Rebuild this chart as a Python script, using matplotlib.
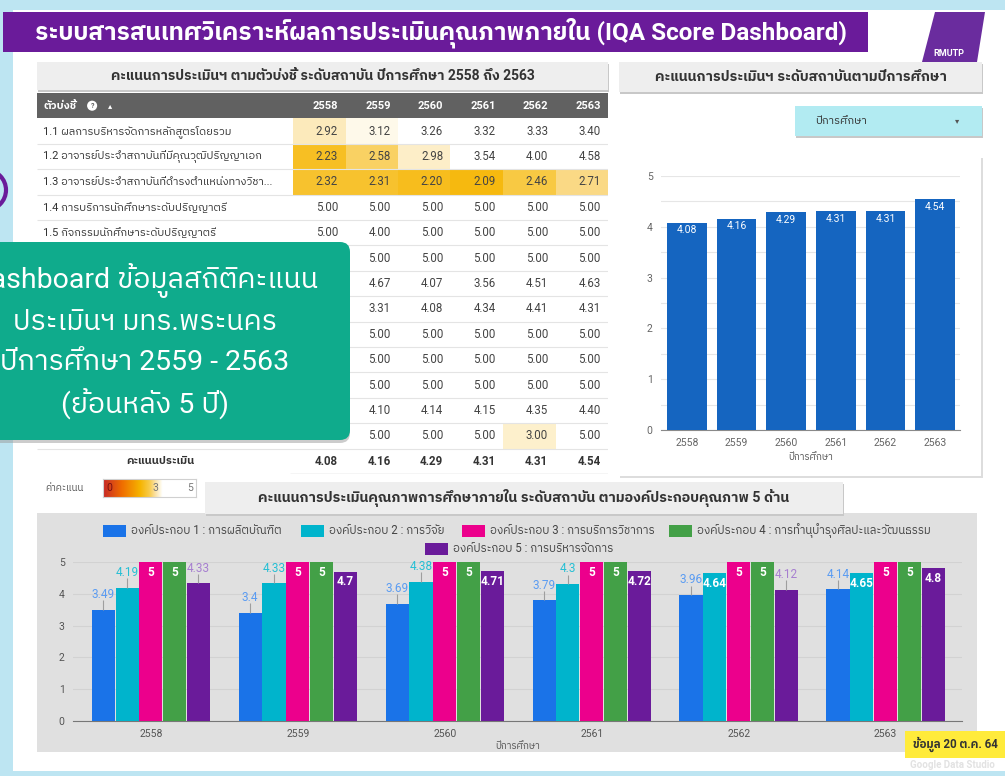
import numpy as np
import matplotlib
matplotlib.use('Agg')
import matplotlib.pyplot as plt
from matplotlib import font_manager
from matplotlib.ft2font import FT2Font
from matplotlib.colors import LinearSegmentedColormap, Normalize
from matplotlib.patches import Rectangle, FancyBboxPatch, Polygon, Circle

# ---------------- data ----------------
years = ['2558', '2559', '2560', '2561', '2562', '2563']

indicators = [
    '1.1 ผลการบริหารจัดการหลักสูตรโดยรวม',
    '1.2 อาจารย์ประจำสถาบันที่มีคุณวุฒิปริญญาเอก',
    '1.3 อาจารย์ประจำสถาบันที่ดำรงตำแหน่งทางวิชา...',
    '1.4 การบริการนักศึกษาระดับปริญญาตรี',
    '1.5 กิจกรรมนักศึกษาระดับปริญญาตรี',
    '2.1 ระบบและกลไกการบริหารและพัฒนางานวิจัยฯ',
    '2.2 เงินสนับสนุนงานวิจัยและงานสร้างสรรค์',
    '2.3 ผลงานทางวิชาการของอาจารย์ประจำและนักวิจัย',
    '3.1 การบริการวิชาการแก่สังคม',
    '4.1 ระบบและกลไกการทำนุบำรุงศิลปะและวัฒนธรรม',
    '5.1 การบริหารของสถาบันเพื่อการกำกับติดตามผล...',
    '5.2 ระบบกำกับการประกันคุณภาพหลักสูตรและคณะ',
    '5.3 ระบบการประกันคุณภาพ',
]

nan = np.nan
score_2558 = [2.92, 2.23, 2.32, 5.00, 5.00, nan, nan, nan, nan, nan, nan, nan, nan]
score_2559 = [3.12, 2.58, 2.31, 5.00, 4.00, 5.00, 4.67, 3.31, 5.00, 5.00, 5.00, 4.10, 5.00]
score_2560 = [3.26, 2.98, 2.20, 5.00, 5.00, 5.00, 4.07, 4.08, 5.00, 5.00, 5.00, 4.14, 5.00]
score_2561 = [3.32, 3.54, 2.09, 5.00, 5.00, 5.00, 3.56, 4.34, 5.00, 5.00, 5.00, 4.15, 5.00]
score_2562 = [3.33, 4.00, 2.46, 5.00, 5.00, 5.00, 4.51, 4.41, 5.00, 5.00, 5.00, 4.35, 3.00]
score_2563 = [3.40, 4.58, 2.71, 5.00, 5.00, 5.00, 4.63, 4.31, 5.00, 5.00, 5.00, 4.40, 5.00]

total_scores = [4.08, 4.16, 4.29, 4.31, 4.31, 4.54]

components = [
    'องค์ประกอบ 1 : การผลิตบัณฑิต',
    'องค์ประกอบ 2 : การวิจัย',
    'องค์ประกอบ 3 : การบริการวิชาการ',
    'องค์ประกอบ 4 : การทำนุบำรุงศิลปะและวัฒนธรรม',
    'องค์ประกอบ 5 : การบริหารจัดการ',
]
comp1 = [3.49, 3.4, 3.69, 3.79, 3.96, 4.14]
comp2 = [4.19, 4.33, 4.38, 4.3, 4.64, 4.65]
comp3 = [5, 5, 5, 5, 5, 5]
comp4 = [5, 5, 5, 5, 5, 5]
comp5 = [4.33, 4.7, 4.71, 4.72, 4.12, 4.8]

comp_colors = ['#1a73e8', '#00b4cc', '#ec008c', '#43a047', '#6a1b9a']
comp_text = ['#5b9cf2', '#26bfd4', '#ec008c', '#43a047', '#a77fd0']


# ---------------- fonts ----------------
def find_thai_family():
    found = []
    for f in font_manager.fontManager.ttflist:
        try:
            cmap = FT2Font(f.fname).get_charmap()
        except Exception:
            continue
        if 0x0E01 in cmap:
            found.append(f.name)
    found.sort(key=lambda n: ('Thai' not in n, 'Loop' in n, n))
    return found[0] if found else None


thai = find_thai_family()
fams = ['Roboto'] + ([thai] if thai else []) + ['DejaVu Sans']
plt.rcParams['font.family'] = fams

W, H = 1005, 776


def px(x, y, w, h):
    return [x / W, 1 - (y + h) / H, w / W, h / H]


fig = plt.figure(figsize=(W / 100, H / 100), dpi=100)
fig.patch.set_facecolor('white')

# ---------------- background / frame ----------------
bg = fig.add_axes([0, 0, 1, 1], zorder=0)
bg.set_xlim(0, W)
bg.set_ylim(H, 0)
bg.axis('off')

blue_edge = '#bde5f2'
bg.add_patch(Rectangle((0, 0), W, 10, color=blue_edge, lw=0))
bg.add_patch(Rectangle((0, 0), 13, H, color=blue_edge, lw=0))
bg.add_patch(Rectangle((0, 771), W, 5, color=blue_edge, lw=0))
bg.add_patch(Circle((-14, 190), 20, facecolor='none', edgecolor='#6a1b9a', lw=3))

# title bar
bg.add_patch(Rectangle((3, 12), 865, 40, color='#6a1b9a', lw=0))
bg.text(35, 33, 'ระบบสารสนเทศวิเคราะห์ผลการประเมินคุณภาพภายใน (IQA Score Dashboard)',
        color='white', fontsize=17.5, fontweight='bold', va='center', ha='left')

# logo
bg.add_patch(Polygon([(935, 12), (985, 12), (977, 62), (922, 62)], closed=True,
                     color='#6a2c9e', lw=0))
bg.text(949, 53, 'RMUTP', color='white', fontsize=6.5, fontweight='bold',
        ha='center', va='center')


def header_box(x, y, w, h, text, fs=10):
    bg.add_patch(Rectangle((x + 1, y + 2), w, h, color='#c8c8c8', lw=0))
    bg.add_patch(Rectangle((x, y), w, h, color='#eeeeee', lw=0))
    bg.text(x + w / 2, y + h / 2, text, fontsize=fs, fontweight='bold',
            color='#333333', ha='center', va='center')


header_box(37, 62, 571, 28, 'คะแนนการประเมินฯ ตามตัวบ่งชี้ ระดับสถาบัน ปีการศึกษา 2558 ถึง 2563')
header_box(619, 62, 363, 30, 'คะแนนการประเมินฯ ระดับสถาบันตามปีการศึกษา', fs=10.2)

# dropdown
bg.add_patch(Rectangle((796, 108), 187, 30, color='#c8c8c8', lw=0))
bg.add_patch(Rectangle((795, 106), 187, 30, color='#b2ebf2', lw=0))
bg.text(815, 121, 'ปีการศึกษา', fontsize=8, color='#333333', va='center')
bg.text(957, 121, '▾', fontsize=6, color='#555555', va='center', ha='center')

# right chart card
bg.add_patch(Rectangle((620, 158), 363, 320, color='#dddddd', lw=0))
bg.add_patch(Rectangle((619, 157), 362, 319, color='white', lw=0))

# bottom chart background + header
bg.add_patch(Rectangle((37, 513), 940, 239, color='#e0e0e0', lw=0))
header_box(205, 482, 638, 32,
           'คะแนนการประเมินคุณภาพการศึกษาภายใน ระดับสถาบัน ตามองค์ประกอบคุณภาพ 5 ด้าน',
           fs=10.2)

# bottom legend
leg_pos = [(103, 531), (301, 531), (462, 531), (669, 531), (425, 549)]
for (lx, ly), name, col in zip(leg_pos, components, comp_colors):
    bg.add_patch(Rectangle((lx, ly - 6), 23, 12, color=col, lw=0))
    bg.text(lx + 28, ly, name, fontsize=8.3, color='#444444', va='center')

# colour scale legend
bg.text(45, 488, 'ค่าคะแนน', fontsize=7, color='#555555', va='center')

# yellow note + watermark
bg.add_patch(Rectangle((905, 731), 100, 27, color='#ffeb3b', lw=0))
bg.text(955, 744, 'ข้อมูล 20 ต.ค. 64', fontsize=8.3, fontweight='bold',
        color='#333333', ha='center', va='center')
bg.text(952, 765, 'Google Data Studio', fontsize=7, fontweight='bold',
        color='#e2e2e2', ha='center', va='center')

# ---------------- heat table ----------------
cmap = LinearSegmentedColormap.from_list('score', [
    (0.0, '#c62828'), (0.2, '#ef6c00'), (0.4, '#f6b400'), (0.5, '#f8cb4a'),
    (0.56, '#fbe0a0'), (0.6, '#fdf0cc'), (0.64, '#ffffff'), (1.0, '#ffffff')])
norm = Normalize(0, 5)

scores = np.array([score_2558, score_2559, score_2560, score_2561,
                   score_2562, score_2563]).T
nrow = len(indicators)
LW = 256 / 52.5
TW = LW + len(years)
n_shown = 5  # rows below this are covered by the green note box

ax_t = fig.add_axes(px(37, 93, 571, 381), zorder=1)
ax_t.set_xlim(0, TW)
ax_t.set_ylim(nrow + 2, 0)
ax_t.axis('off')

ax_t.add_patch(Rectangle((0, 0), TW, 1, color='#616161', lw=0))
ax_t.text(0.12, 0.5, 'ตัวบ่งชี้', color='white', fontsize=8, fontweight='bold', va='center')
ax_t.text(1.05, 0.5, '?', color='#616161', fontsize=5, fontweight='bold', va='center', ha='center',
          bbox=dict(boxstyle='circle,pad=0.15', fc='white', ec='none'))
ax_t.text(1.4, 0.5, '▴', color='white', fontsize=6, va='center', ha='center')
for j, yr in enumerate(years):
    ax_t.text(LW + j + 0.86, 0.5, yr, color='white', fontsize=8,
              fontweight='bold', ha='right', va='center')

xe = LW + np.arange(len(years) + 1)
ye = 1 + np.arange(nrow + 1)
ax_t.pcolormesh(xe, ye, np.ma.masked_invalid(scores), cmap=cmap, norm=norm,
                edgecolors='none')

for i in range(nrow):
    yc = i + 1.5
    if i < n_shown:
        ax_t.text(0.12, yc, indicators[i], fontsize=8, color='#333333', va='center')
    for j in range(len(years)):
        v = scores[i, j]
        if not np.isnan(v):
            ax_t.text(LW + j + 0.86, yc, f'{v:.2f}', fontsize=8.3, color='#444444',
                      ha='right', va='center')
ax_t.hlines(np.arange(2, nrow + 2), 0, TW, color='#e4e4e4', lw=0.8)
ax_t.hlines(nrow + 2, LW - 0.05, TW, color='#cfcfcf', lw=1)

ax_t.text(2.35, nrow + 1.5, 'คะแนนประเมิน', fontsize=8, fontweight='bold',
          color='#333333', ha='center', va='center')
for j, v in enumerate(total_scores):
    ax_t.text(LW + j + 0.86, nrow + 1.5, f'{v:.2f}', fontsize=8.3, fontweight='bold',
              color='#333333', ha='right', va='center')

# colour bar
ax_cb = fig.add_axes(px(103, 479, 93, 18), zorder=1)
ax_cb.imshow(np.linspace(0, 5, 256)[None, :], cmap=cmap, norm=norm,
             extent=(0, 5, 0, 1), aspect='auto')
ax_cb.set_xticks([])
ax_cb.set_yticks([])
for s in ax_cb.spines.values():
    s.set_color('#d0d0d0')
ax_cb.text(0.2, 0.5, '0', fontsize=7.5, color='#7a1010', va='center')
ax_cb.text(2.65, 0.5, '3', fontsize=7.5, color='#777777', va='center')
ax_cb.text(4.55, 0.5, '5', fontsize=7.5, color='#777777', va='center')

# ---------------- right bar chart ----------------
ax_r = fig.add_axes(px(661, 176, 299, 254), zorder=1)
ax_r.set_facecolor('none')
xr = np.arange(len(years))
bars = ax_r.bar(xr, total_scores, width=0.8, color='#1565c0', zorder=3)
for b, v in zip(bars, total_scores):
    ax_r.text(b.get_x() + b.get_width() / 2, v - 0.05, f'{v:.2f}', color='white',
              fontsize=7.5, ha='center', va='top', zorder=4)
ax_r.set_xlim(-0.524, 5.5)
ax_r.set_ylim(0, 5)
ax_r.set_xticks(xr)
ax_r.set_xticklabels(years)
ax_r.set_yticks(range(6))
ax_r.set_yticks(np.arange(0.5, 5, 1), minor=True)
ax_r.grid(axis='y', which='both', color='#e6e6e6', lw=0.8, zorder=0)
ax_r.tick_params(which='both', length=0, labelsize=7.5, colors='#666666', pad=6)
for s in ['top', 'right', 'left']:
    ax_r.spines[s].set_visible(False)
ax_r.spines['bottom'].set_color('#8a8a8a')
ax_r.set_xlabel('ปีการศึกษา', fontsize=7, style='italic', color='#555555', labelpad=3)

# ---------------- bottom grouped bars ----------------
ax_b = fig.add_axes(px(73, 562, 889, 159), zorder=1)
ax_b.set_facecolor('none')
xb = np.arange(len(years))
step = 0.162
series = [comp1, comp2, comp3, comp4, comp5]
for k, (vals, col, tcol) in enumerate(zip(series, comp_colors, comp_text)):
    xs = xb + (k - 2) * step
    ax_b.bar(xs, vals, width=step * 0.97, color=col, zorder=3)
    for x, v in zip(xs, vals):
        lab = f'{v:g}'
        if v >= 4.6:
            ax_b.text(x, v - 0.12, lab, color='white', fontsize=8.5, fontweight='bold',
                      ha='center', va='top', zorder=5)
        else:
            ax_b.vlines(x, v, v + 0.3, color='#9e9e9e', lw=0.8, zorder=4)
            ax_b.text(x, v + 0.48, lab, color=tcol, fontsize=8.5,
                      ha='center', va='center', zorder=5)
ax_b.set_xlim(-0.53, 5.52)
ax_b.set_ylim(0, 5)
ax_b.set_xticks(xb)
ax_b.set_xticklabels(years)
ax_b.set_yticks(range(6))
ax_b.grid(axis='y', color='#d2d2d2', lw=0.8, zorder=0)
ax_b.tick_params(length=0, labelsize=7.5, colors='#555555', pad=6)
for s in ['top', 'right', 'left']:
    ax_b.spines[s].set_visible(False)
ax_b.spines['bottom'].set_color('#777777')
ax_b.set_xlabel('ปีการศึกษา', fontsize=7, style='italic', color='#555555', labelpad=1)

# ---------------- overlay note ----------------
top = fig.add_axes([0, 0, 1, 1], zorder=10)
top.set_xlim(0, W)
top.set_ylim(H, 0)
top.axis('off')
top.patch.set_alpha(0)
top.add_patch(FancyBboxPatch((-60, 245), 410, 198, boxstyle='round,pad=0,rounding_size=10',
                             fc='#9a9a9a', ec='none', alpha=0.5))
top.add_patch(FancyBboxPatch((-60, 242), 410, 198, boxstyle='round,pad=0,rounding_size=10',
                             fc='#0fab8c', ec='none'))
note_lines = ['Dashboard ข้อมูลสถิติคะแนน', 'ประเมินฯ มทร.พระนคร',
              'ปีการศึกษา 2559 - 2563', '(ย้อนหลัง 5 ปี)']
for i, line in enumerate(note_lines):
    top.text(145, 281 + i * 41, line, color='white', fontsize=20.5,
             ha='center', va='center')

fig.savefig('out.png', dpi=100)
